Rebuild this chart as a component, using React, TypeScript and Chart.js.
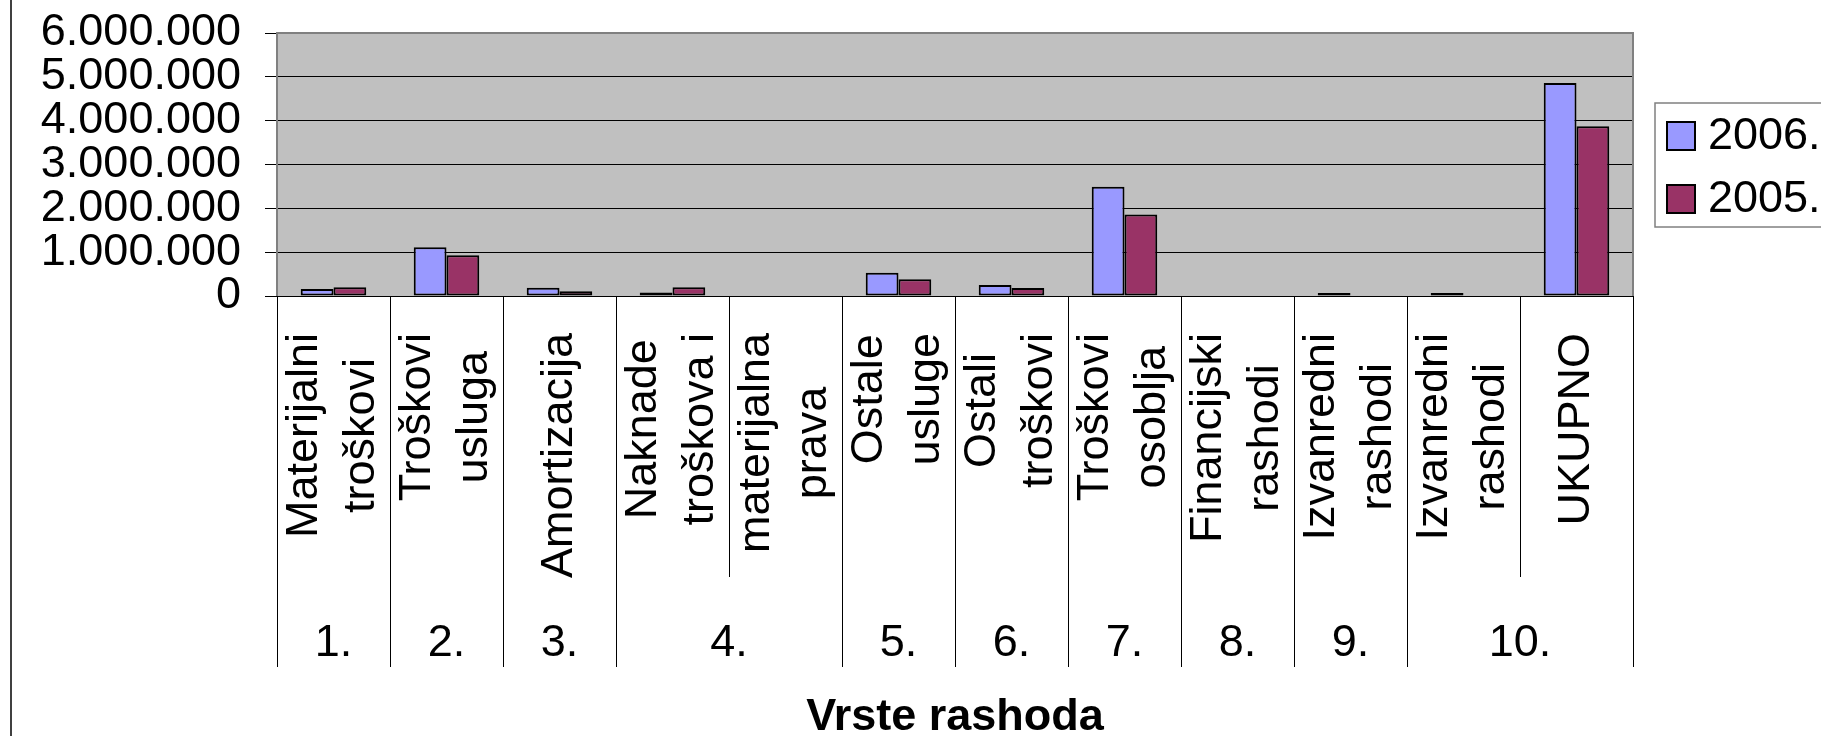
import React, { useEffect, useRef } from "react";
import { Chart, registerables } from "chart.js";

Chart.register(...registerables);

// ---------- data ----------
const leafLabels: string[][] = [
  ["Materijalni", "troškovi"],
  ["Troškovi", "usluga"],
  ["Amortizacija"],
  ["Naknade", "troškova i"],
  ["materijalna", "prava"],
  ["Ostale", "usluge"],
  ["Ostali", "troškovi"],
  ["Troškovi", "osoblja"],
  ["Financijski", "rashodi"],
  ["Izvanredni", "rashodi"],
  ["Izvanredni", "rashodi"],
  ["UKUPNO"],
];
const groupLabels = ["1.", "2.", "3.", "4.", "5.", "6.", "7.", "8.", "9.", "10."];
const groupSpans = [1, 1, 1, 2, 1, 1, 1, 1, 1, 2];
const seriesNames = ["2006.", "2005."];
const values2006 = [160000, 1110000, 190000, 80000, null, 530000, 250000, 2490000, null, 20000, 20000, 4860000];
const values2005 = [200000, 930000, 110000, 200000, null, 380000, 180000, 1860000, null, null, null, 3870000];
const seriesColors = ["#9999FF", "#993366"];
const yMin = 0;
const yMax = 6000000;
const yStep = 1000000;
const axisTitle = "Vrste rashoda";

const FONT = "'Liberation Sans', Arial, Helvetica, sans-serif";

function fmt(v: number): string {
  return String(Math.round(v)).replace(/\B(?=(\d{3})+(?!\d))/g, ".");
}

const excelPlugin = {
  id: "excelLook",
  beforeDraw(chart: any) {
    const { ctx, chartArea: a } = chart;
    ctx.save();
    ctx.fillStyle = "#ffffff";
    ctx.fillRect(0, 0, chart.width, chart.height);
    ctx.fillStyle = "#C0C0C0";
    ctx.fillRect(a.left, a.top, a.right - a.left, a.bottom - a.top);
    ctx.restore();
  },
  afterDraw(chart: any) {
    const { ctx, chartArea: a } = chart;
    const xs = chart.scales.x;
    const n = chart.data.labels.length;
    const bounds: number[] = [];
    for (let i = 0; i <= n; i++) {
      if (i === 0) bounds.push(a.left);
      else if (i === n) bounds.push(a.right);
      else bounds.push((xs.getPixelForValue(i - 1) + xs.getPixelForValue(i)) / 2);
    }
    const groupBounds = new Set<number>();
    let acc = 0;
    groupBounds.add(0);
    groupSpans.forEach((s) => {
      acc += s;
      groupBounds.add(acc);
    });

    ctx.save();
    // plot border (top, left, right)
    ctx.strokeStyle = "#808080";
    ctx.lineWidth = 2;
    ctx.beginPath();
    ctx.moveTo(a.left, a.bottom);
    ctx.lineTo(a.left, a.top);
    ctx.lineTo(a.right, a.top);
    ctx.lineTo(a.right, a.bottom);
    ctx.stroke();

    // category dividers below axis
    ctx.strokeStyle = "#000000";
    ctx.lineWidth = 1;
    for (let i = 0; i <= n; i++) {
      const x = Math.round(bounds[i]) + 0.5;
      const y2 = groupBounds.has(i) ? a.bottom + 371 : a.bottom + 281;
      ctx.beginPath();
      ctx.moveTo(x, a.bottom);
      ctx.lineTo(x, y2);
      ctx.stroke();
    }

    // leaf labels, rotated
    ctx.fillStyle = "#000000";
    ctx.font = `45px ${FONT}`;
    for (let i = 0; i < n; i++) {
      const lines = leafLabels[i];
      let W = 0;
      lines.forEach((s) => (W = Math.max(W, ctx.measureText(s).width)));
      const cx = xs.getPixelForValue(i);
      ctx.save();
      ctx.translate(cx, a.bottom + 37);
      ctx.rotate(-Math.PI / 2);
      ctx.textAlign = "center";
      ctx.textBaseline = "middle";
      lines.forEach((s, j) => ctx.fillText(s, -W / 2, (j - (lines.length - 1) / 2) * 57));
      ctx.restore();
    }

    // group labels
    ctx.textAlign = "center";
    ctx.textBaseline = "alphabetic";
    let start = 0;
    groupSpans.forEach((sp, g) => {
      const cx = (bounds[start] + bounds[start + sp]) / 2;
      ctx.fillText(groupLabels[g], cx, a.bottom + 360);
      start += sp;
    });

    // axis title
    ctx.font = `bold 45px ${FONT}`;
    ctx.fillText(axisTitle, (a.left + a.right) / 2, a.bottom + 434);

    // outer chart frame (left edge)
    ctx.strokeStyle = "#404040";
    ctx.lineWidth = 2;
    ctx.beginPath();
    ctx.moveTo(11, 0);
    ctx.lineTo(11, chart.height);
    ctx.stroke();

    // legend
    const lx = a.right + 22;
    const ly = 103;
    ctx.strokeStyle = "#808080";
    ctx.lineWidth = 1.5;
    ctx.strokeRect(lx, ly, chart.width - lx + 20, 124);
    ctx.font = `45px ${FONT}`;
    ctx.textAlign = "left";
    ctx.textBaseline = "middle";
    chart.data.datasets.forEach((ds: any, i: number) => {
      const sy = ly + 19 + i * 63;
      ctx.fillStyle = ds.backgroundColor;
      ctx.fillRect(lx + 12, sy, 28, 28);
      ctx.strokeStyle = "#000000";
      ctx.lineWidth = 2;
      ctx.strokeRect(lx + 12, sy, 28, 28);
      ctx.fillStyle = "#000000";
      ctx.fillText(ds.label, lx + 53, sy + 15);
    });
    ctx.restore();
  },
};

export default function App() {
  const ref = useRef<HTMLCanvasElement | null>(null);
  useEffect(() => {
    if (!ref.current) return;
    Chart.defaults.font.family = FONT;
    Chart.defaults.color = "#000000";
    const chart = new Chart(ref.current, {
      type: "bar",
      data: {
        labels: leafLabels.map((l) => l.join(" ")),
        datasets: [
          {
            label: seriesNames[0],
            data: values2006,
            backgroundColor: seriesColors[0],
            borderColor: "#000000",
            borderWidth: 2,
            borderSkipped: false,
            minBarLength: 3,
            categoryPercentage: 0.58,
            barPercentage: 1.0,
          },
          {
            label: seriesNames[1],
            data: values2005,
            backgroundColor: seriesColors[1],
            borderColor: "#000000",
            borderWidth: 2,
            borderSkipped: false,
            minBarLength: 3,
            categoryPercentage: 0.58,
            barPercentage: 1.0,
          },
        ],
      },
      options: {
        responsive: false,
        animation: false,
        events: [],
        layout: { padding: { left: 0, top: 33, right: 188, bottom: 440 } },
        plugins: { legend: { display: false }, tooltip: { enabled: false } },
        scales: {
          x: { display: false },
          y: {
            min: yMin,
            max: yMax,
            border: { display: false },
            grid: { color: "#000000", lineWidth: 1, tickLength: 12, tickColor: "#000000" },
            ticks: {
              stepSize: yStep,
              autoSkip: false,
              padding: 24,
              font: { size: 45, family: FONT },
              color: "#000000",
              callback: (v: any) => fmt(Number(v)),
            },
            afterFit: (scale: any) => {
              scale.width = 277;
              scale.paddingTop = 0;
              scale.paddingBottom = 0;
            },
          },
        },
      },
      plugins: [excelPlugin],
    } as any);
    return () => chart.destroy();
  }, []);
  return (
    <div style={{ position: "fixed", left: 0, top: 0, width: 1821, height: 736, background: "#fff" }}>
      <canvas ref={ref} width={1821} height={736} style={{ display: "block", width: 1821, height: 736 }} />
    </div>
  );
}
